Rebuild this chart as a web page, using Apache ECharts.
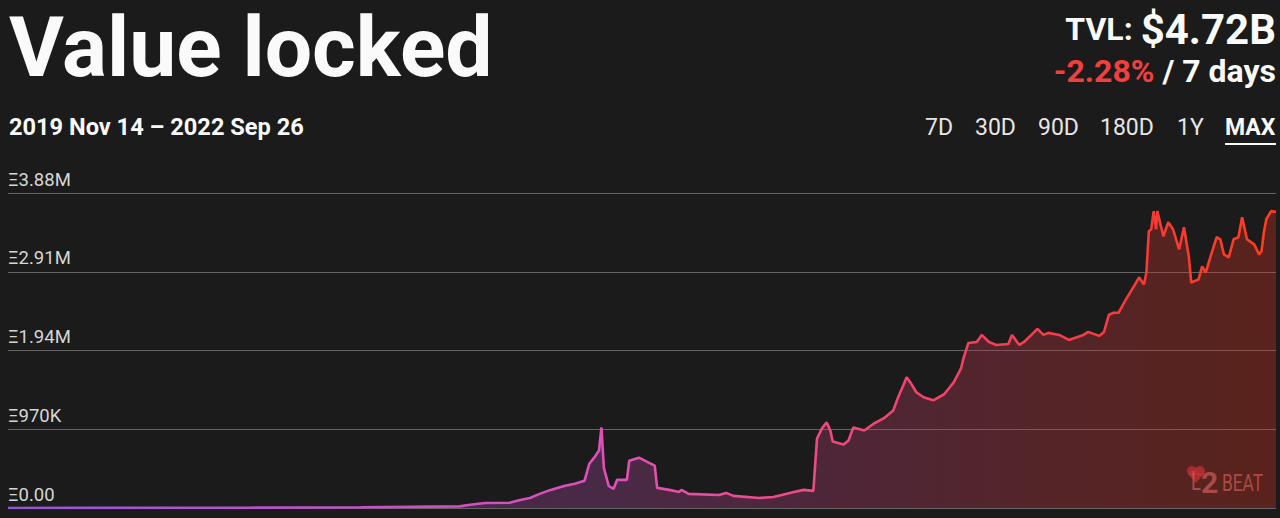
<!DOCTYPE html>
<html>
<head>
<meta charset="utf-8">
<script src="https://cdn.jsdelivr.net/npm/echarts@6/dist/echarts.min.js"></script>
<style>
html,body{margin:0;padding:0;background:#1b1b1b;}
#c{width:1280px;height:518px;}
</style>
</head>
<body>
<div id="c"></div>
<script>
const titleText = 'Value locked';
const tvlLabel = 'TVL:';
const tvlValue = '$4.72B';
const changeText = '-2.28%';
const changePeriod = ' / 7 days';
const dateRangeText = '2019 Nov 14 \u2013 2022 Sep 26';
const rangeButtons = ['7D', '30D', '90D', '180D', '1Y', 'MAX'];
const yTickLabels = ['\u039E0.00', '\u039E970K', '\u039E1.94M', '\u039E2.91M', '\u039E3.88M'];
const yMin = 0, yMax = 3880000, yInterval = 970000;

const dates = [
'2019-11-14','2020-01-15','2020-06-01','2020-09-01','2020-11-21','2020-11-28','2020-12-12','2021-01-01',
'2021-01-10','2021-01-18','2021-01-26','2021-02-04','2021-02-16','2021-02-24','2021-03-04','2021-03-08',
'2021-03-12','2021-03-16','2021-03-18','2021-03-20','2021-03-24','2021-03-28','2021-03-31','2021-04-08',
'2021-04-10','2021-04-18','2021-04-26','2021-05-01','2021-05-03','2021-05-13','2021-05-21','2021-05-23',
'2021-05-29','2021-06-23','2021-06-29','2021-07-05','2021-07-26','2021-08-07','2021-08-24','2021-09-01',
'2021-09-09','2021-09-12','2021-09-16','2021-09-20','2021-09-23','2021-09-25','2021-10-04','2021-10-08',
'2021-10-12','2021-10-21','2021-10-29','2021-11-06','2021-11-14','2021-11-18','2021-11-23','2021-11-25',
'2021-11-28','2021-12-03','2021-12-09','2021-12-17','2021-12-26','2022-01-03','2022-01-09','2022-01-11',
'2022-01-15','2022-01-22','2022-01-26','2022-02-01','2022-02-07','2022-02-17','2022-02-20','2022-02-26',
'2022-03-02','2022-03-08','2022-03-13','2022-03-18','2022-03-22','2022-03-31','2022-04-08','2022-04-20',
'2022-04-24','2022-05-03','2022-05-07','2022-05-11','2022-05-15','2022-05-19','2022-05-25','2022-05-30',
'2022-06-05','2022-06-09','2022-06-11','2022-06-13','2022-06-15','2022-06-17','2022-06-19','2022-06-20',
'2022-06-23','2022-06-25','2022-06-29','2022-07-03','2022-07-08','2022-07-12','2022-07-16','2022-07-18',
'2022-07-24','2022-07-27','2022-07-30','2022-08-04','2022-08-08','2022-08-11','2022-08-14','2022-08-18',
'2022-08-22','2022-08-26','2022-08-29','2022-09-02','2022-09-08','2022-09-12','2022-09-14','2022-09-16',
'2022-09-18','2022-09-22','2022-09-26'
];
const values = [
0,1500,4000,9000,20000,37000,62000,64000,
99000,124000,174000,223000,273000,298000,335000,545000,
620000,707000,992000,496000,273000,236000,347000,347000,
583000,620000,558000,521000,248000,223000,198000,223000,
174000,161000,186000,149000,124000,136000,198000,223000,
211000,855000,979000,1054000,955000,818000,781000,831000,
992000,955000,1041000,1103000,1202000,1364000,1537000,1611000,
1550000,1426000,1364000,1326000,1401000,1550000,1723000,1847000,
2033000,2045000,2132000,2045000,2008000,2021000,2132000,2008000,
2045000,2132000,2206000,2132000,2157000,2132000,2070000,2132000,
2169000,2120000,2169000,2380000,2405000,2405000,2566000,2690000,
2839000,2752000,2901000,3409000,3434000,3657000,3434000,3657000,
3471000,3347000,3520000,3434000,3186000,3458000,3099000,2777000,
2814000,2975000,2901000,3149000,3335000,3310000,3124000,3087000,
3310000,3335000,3582000,3310000,3248000,3124000,3161000,3396000,
3558000,3657000,3645000
];

const seriesData = dates.map((d, i) => [d, values[i]]);
const FONT = 'Roboto, "Noto Sans", sans-serif';
const NARROW = '"Roboto Condensed", "Liberation Sans Narrow", Roboto, sans-serif';

const chart = echarts.init(document.getElementById('c'), null, {renderer: 'svg'});

const btnX = [925, 975, 1038, 1100, 1177, 1225];
const graphics = [
  {type: 'text', left: 9, top: 5, style: {text: titleText, font: 'bold 84px ' + FONT, fill: '#fafafa'}},
  {type: 'text', right: 4, top: 8, style: {
    text: '{a|' + tvlLabel + ' }{b|' + tvlValue + '}',
    rich: {
      a: {font: 'bold 32px ' + FONT, fill: '#fafafa'},
      b: {font: 'bold 42px ' + FONT, fill: '#fafafa'}
    }
  }},
  {type: 'text', right: 4, top: 55, style: {
    text: '{r|' + changeText + '}{w|' + changePeriod + '}',
    rich: {
      r: {font: 'bold 32px ' + FONT, fill: '#f2403f'},
      w: {font: 'bold 32px ' + FONT, fill: '#fafafa'}
    }
  }},
  {type: 'text', left: 9, top: 115, style: {text: dateRangeText, font: 'bold 23.6px ' + FONT, fill: '#fafafa'}}
];
rangeButtons.forEach((b, i) => {
  const last = i === rangeButtons.length - 1;
  graphics.push({type: 'text', left: btnX[i], top: 116, style: {
    text: b, font: (last ? 'bold ' : '') + '23px ' + FONT, fill: last ? '#fafafa' : '#e6e6e6'
  }});
});
graphics.push({type: 'rect', left: 1225, top: 143, shape: {width: 51, height: 2}, style: {fill: '#fafafa'}});
// watermark
graphics.push({type: 'group', left: 1187, top: 466, children: [
  {type: 'circle', shape: {cx: 5, cy: 6, r: 5}, style: {fill: 'rgba(205,45,60,0.7)'}},
  {type: 'circle', shape: {cx: 13, cy: 6, r: 5}, style: {fill: 'rgba(205,45,60,0.7)'}},
  {type: 'polygon', shape: {points: [[0.4, 8], [17.6, 8], [9, 18]]}, style: {fill: 'rgba(205,45,60,0.7)'}},
  {type: 'text', x: 4, y: 3, scaleX: 0.7, style: {text: 'L', font: '26px ' + FONT, fill: 'rgba(240,130,135,0.6)'}},
  {type: 'text', x: 14, y: 2, style: {text: '2', font: 'bold 30px ' + FONT, fill: 'rgba(240,130,135,0.6)'}},
  {type: 'text', x: 35, y: 6, scaleX: 0.72, style: {text: 'BEAT', font: '24px ' + FONT, fill: 'rgba(240,130,135,0.6)'}}
]});

chart.setOption({
  backgroundColor: '#1b1b1b',
  animation: false,
  grid: {left: 8, right: 4, top: 193, bottom: 10},
  xAxis: {
    type: 'time',
    min: dates[0],
    max: dates[dates.length - 1],
    show: false
  },
  yAxis: {
    type: 'value',
    min: yMin, max: yMax, interval: yInterval,
    axisLine: {show: false},
    axisTick: {show: false},
    splitLine: {show: true, lineStyle: {color: 'rgba(255,255,255,0.32)', width: 1}},
    axisLabel: {
      inside: true,
      margin: 0,
      verticalAlign: 'bottom',
      padding: [0, 0, 4, 0],
      color: '#d6d6d6',
      fontFamily: FONT,
      fontSize: 18.5,
      formatter: (v, i) => yTickLabels[i]
    }
  },
  series: [{
    type: 'line',
    data: seriesData,
    showSymbol: false,
    z: 3,
    lineStyle: {
      width: 2.6,
      color: {type: 'linear', x: 0, y: 0, x2: 1, y2: 0, colorStops: [
        {offset: 0, color: '#9058d8'},
        {offset: 0.3, color: '#cc4fc8'},
        {offset: 0.48, color: '#e050b6'},
        {offset: 0.64, color: '#ee4a80'},
        {offset: 0.78, color: '#f0405a'},
        {offset: 0.9, color: '#f63a35'},
        {offset: 1, color: '#ff3d1c'}
      ]}
    },
    areaStyle: {
      color: {type: 'linear', x: 0, y: 0, x2: 1, y2: 0, colorStops: [
        {offset: 0, color: 'rgba(120,60,170,0.5)'},
        {offset: 0.47, color: 'rgba(157,69,149,0.5)'},
        {offset: 0.65, color: 'rgba(175,59,111,0.5)'},
        {offset: 0.82, color: 'rgba(189,53,63,0.5)'},
        {offset: 1, color: 'rgba(205,49,29,0.5)'}
      ]}
    }
  }],
  graphic: graphics
});
</script>
</body>
</html>
